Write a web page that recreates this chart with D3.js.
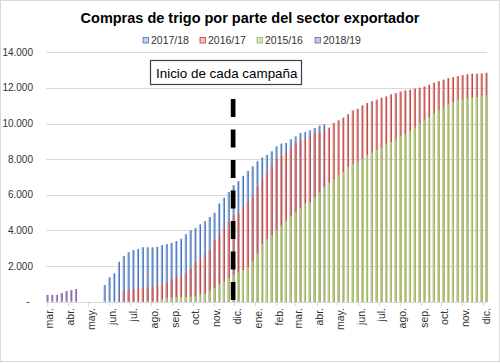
<!DOCTYPE html>
<html>
<head>
<meta charset="utf-8">
<script src="https://cdn.jsdelivr.net/npm/d3@7"></script>
<style>
  body { margin: 0; background: #fff; }
  text { font-family: "Liberation Sans", Arial, sans-serif; }
</style>
</head>
<body>
<svg id="chart"></svg>
<script>
var w = 500, h = 363;

// weekly cumulative purchases (thousand t), one bar per week from its start date
var start_1718 = "2017-05-24";
var vals_1718 = [940, 1370, 1590, 2240, 2560, 2780, 2900, 2950, 3050, 3050, 3050, 3080, 3180, 3230, 3300, 3400,
                 3530, 3780, 4020, 4130, 4340, 4520, 4750, 4990, 5510, 5830, 6160, 6540, 6760, 7060, 7340, 7600,
                 7880, 8090, 8240, 8440, 8720, 8870, 8910, 9120, 9280, 9470, 9520, 9620, 9750, 9880, 9960];

var start_1617 = "2017-06-14";
var vals_1617 = [100, 600, 650, 720, 750, 780, 800, 840, 930, 980, 1050, 1270, 1370, 1450, 1600, 1850,
                 2200, 2400, 2650, 2850, 3450, 3750, 4150, 4500, 4850, 4950, 5300, 5600, 5900, 6450, 6900, 7280,
                 7600, 8030, 8220, 8350, 8600, 8870, 9060, 9150, 9340, 9470, 9520, 9650, 9770, 10030, 10180, 10330,
                 10520, 10740, 10830, 11020, 11150, 11260, 11340, 11450, 11520, 11640, 11710, 11800, 11860, 11900, 11960, 12010,
                 12080, 12180, 12290, 12380, 12460, 12550, 12600, 12660, 12720, 12760, 12800, 12800, 12810, 12850];

var start_1516 = "2017-08-16";
var vals_1516 = [150, 220, 230, 240, 250, 270, 280, 300, 420, 450, 600, 770, 1000, 1130, 1330, 1500,
                 1650, 1780, 1950, 2270, 2730, 3230, 3500, 3740, 4020, 4260, 4540, 4800, 5030, 5270, 5510, 5570,
                 5880, 6130, 6440, 6670, 6860, 7100, 7280, 7560, 7710, 7810, 7990, 8220, 8370, 8500, 8650, 8820,
                 8960, 9100, 9280, 9400, 9580, 9770, 9990, 10180, 10360, 10590, 10740, 10920, 11080, 11200, 11340, 11340,
                 11410, 11450, 11490, 11520, 11580];

var start_1819 = "2017-03-01";
var vals_1819 = [380, 380, 385, 490, 595, 650, 715];

var series_names = ["2017/18", "2016/17", "2015/16", "2018/19"];
var series_fill = ["#9db6de", "#dc9a98", "#bcd198", "#ad9cc9"];
var series_edge = ["#3d6cb5", "#c23b38", "#93bb52", "#7a5ea8"];
var series_start = [start_1718, start_1617, start_1516, start_1819];
var series_vals = [vals_1718, vals_1617, vals_1516, vals_1819];

var meses = ["ene.", "feb.", "mar.", "abr.", "may.", "jun.", "jul.", "ago.", "sep.", "oct.", "nov.", "dic."];
var y_ticks = [0, 2000, 4000, 6000, 8000, 10000, 12000, 14000];
var campaign_start = "2017-12-01";

var parse = d3.timeParse("%Y-%m-%d");
var es = d3.formatLocale({decimal: ",", thousands: ".", grouping: [3], currency: ["", ""]});
var fmt = es.format(",");

var svg = d3.select("#chart").attr("width", w).attr("height", h);
svg.append("rect").attr("x", 0.5).attr("y", 0.5).attr("width", w - 1).attr("height", h - 2)
   .attr("fill", "#fff").attr("stroke", "#d9d9d9");

var x = d3.scaleTime().domain([new Date(2017, 1, 28), new Date(2018, 11, 7)]).range([46, 487]);
var y = d3.scaleLinear().domain([0, 14000]).range([301.7, 52.3]);

// gridlines
svg.append("g").selectAll("line").data(y_ticks.slice(1)).join("line")
   .attr("x1", 46).attr("x2", 487)
   .attr("y1", function(d){ return Math.round(y(d)) + 0.5; })
   .attr("y2", function(d){ return Math.round(y(d)) + 0.5; })
   .attr("stroke", "#d9d9d9").attr("stroke-width", 1);

// y labels
svg.append("g").selectAll("text").data(y_ticks).join("text")
   .attr("x", function(d){ return d == 0 ? 28 : 33; })
   .attr("y", function(d){ return y(d); })
   .attr("dy", "0.35em")
   .attr("text-anchor", function(d){ return d == 0 ? "middle" : "end"; })
   .attr("font-size", "10px").attr("fill", "#333")
   .text(function(d){ return d == 0 ? "-" : fmt(d); });

// bars: light body plus darker 1px edge
var bw = 2.1;
series_vals.forEach(function(vals, s){
	var st = parse(series_start[s]);
	var pts = vals.map(function(v, i){ return {date: d3.timeDay.offset(st, 7 * i), v: v}; });
	var g = svg.append("g").attr("class", "series");
	g.selectAll("rect").data(pts).join("rect")
	 .attr("x", function(d){ return x(d.date) - 0.4; })
	 .attr("y", function(d){ return y(d.v); })
	 .attr("width", bw)
	 .attr("height", function(d){ return y(0) - y(d.v); })
	 .attr("fill", series_fill[s]);
	g.selectAll("line").data(pts).join("line")
	 .attr("x1", function(d){ return x(d.date) - 0.4 + bw - 0.5; })
	 .attr("x2", function(d){ return x(d.date) - 0.4 + bw - 0.5; })
	 .attr("y1", function(d){ return y(d.v); })
	 .attr("y2", y(0))
	 .attr("stroke", series_edge[s]).attr("stroke-width", 0.9);
});

// x axis
var months = x.ticks(d3.timeMonth.every(1)).filter(function(d){ return d.getDate() == 1; });
svg.append("line").attr("x1", 46).attr("x2", 487).attr("y1", 302.5).attr("y2", 302.5)
   .attr("stroke", "#d9d9d9");
svg.append("g").selectAll("line").data(months).join("line")
   .attr("x1", function(d){ return Math.round(x(d)) + 0.5; })
   .attr("x2", function(d){ return Math.round(x(d)) + 0.5; })
   .attr("y1", 302).attr("y2", 306)
   .attr("stroke", "#d9d9d9");
svg.append("g").selectAll("text").data(months).join("text")
   .attr("transform", function(d){ return "translate(" + (x(d) + 3) + ",308) rotate(-90)"; })
   .attr("dy", "0.35em")
   .attr("text-anchor", "end")
   .attr("font-size", "10.5px").attr("fill", "#333")
   .text(function(d){ return meses[d.getMonth()]; });

// campaign start marker
var cx = x(parse(campaign_start)) - 1;
svg.append("line").attr("x1", cx).attr("x2", cx).attr("y1", 99).attr("y2", 302)
   .attr("stroke", "#000").attr("stroke-width", 4.7)
   .attr("stroke-dasharray", "18,12.5");

svg.append("rect").attr("x", 150.5).attr("y", 60.5).attr("width", 151).attr("height", 24)
   .attr("fill", "#fff").attr("stroke", "#404040").attr("stroke-width", 1.2);
svg.append("text").attr("x", 156).attr("y", 77.5)
   .attr("font-size", "13.4px").attr("fill", "#000")
   .text("Inicio de cada campaña");

// title, sized to span the same width as the original
var title = svg.append("text").attr("x", 250).attr("y", 23).attr("text-anchor", "middle")
   .attr("font-family", "'Liberation Sans Narrow', 'DejaVu Sans Condensed', sans-serif")
   .attr("font-weight", "bold").attr("font-size", "18px")
   .text("Compras de trigo por parte del sector exportador");
var tw = title.node().getComputedTextLength();
title.attr("font-size", (18 * 339 / tw).toFixed(2) + "px");

// legend
var leg_x = [143, 200, 257, 315];
var leg_order = [0, 1, 2, 3];
var leg = svg.append("g").selectAll("g").data(leg_order).join("g")
   .attr("transform", function(d, i){ return "translate(" + leg_x[i] + ",40)"; });
leg.append("rect").attr("x", 0).attr("y", -2.5).attr("width", 5.5).attr("height", 5.5)
   .attr("fill", function(d){ return series_fill[d]; })
   .attr("fill-opacity", 0.6)
   .attr("stroke", function(d){ return series_edge[d]; }).attr("stroke-width", 0.8);
leg.append("text").attr("x", 8).attr("y", 0.5).attr("dy", "0.35em")
   .attr("font-size", "10.5px").attr("fill", "#333")
   .text(function(d){ return series_names[d]; });
</script>
</body>
</html>
